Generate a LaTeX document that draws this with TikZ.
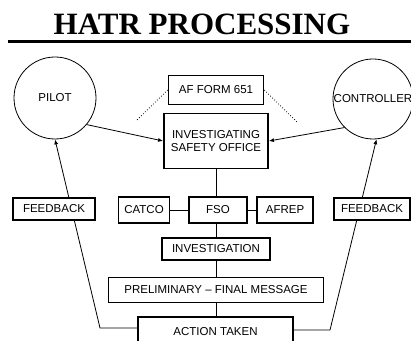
\documentclass[tikz,border=0pt]{standalone}
\usepackage{fontspec}
\setmainfont{Liberation Sans}
\newfontfamily\titlefont{Liberation Serif}
\usetikzlibrary{arrows.meta}
\tikzset{
  stepbox/.style={draw,line width=1.8bp,fill=white,inner sep=0pt,font=\fontsize{11.5bp}{13bp}\selectfont},
  party/.style={draw,circle,line width=0.8bp,inner sep=0pt,minimum size=82bp,font=\fontsize{11.5bp}{13bp}\selectfont},
  link/.style={line width=0.8bp},
}
\begin{document}
\begin{tikzpicture}[>={Latex[length=5bp,width=4bp]},x=1bp,y=1bp]
  \useasboundingbox (0bp,0bp) rectangle (411bp,341bp);
  % Title
  \node (title) at (202bp,317bp) {\titlefont\bfseries\fontsize{31bp}{33bp}\selectfont HATR PROCESSING};
  \draw [line width=3bp] (8bp,299bp) -- (411bp,299bp);
%%
  % Node: Pilot
  \node [party] (pilot) at (55bp,243bp) {PILOT};
  % Node: Controller
  \node [party,minimum size=80bp] (ctrl) at (373bp,242bp) {CONTROLLER};
  % Node: AF Form 651
  \node [stepbox,minimum width=95bp,minimum height=29bp] (form) at (216bp,251bp) {AF FORM 651};
  % Node: Investigating Safety Office
  \node [stepbox,minimum width=104bp,minimum height=55bp,align=center] (iso) at (216bp,200bp) {INVESTIGATING\\SAFETY OFFICE};
  % Node: CATCO
  \node [stepbox,minimum width=51bp,minimum height=26bp] (catco) at (144bp,131bp) {CATCO};
  % Node: FSO
  \node [stepbox,minimum width=58bp,minimum height=26bp] (fso) at (218bp,131bp) {FSO};
  % Node: AFREP
  \node [stepbox,minimum width=56bp,minimum height=26bp] (afrep) at (285bp,131bp) {AFREP};
  % Node: Investigation
  \node [stepbox,minimum width=108bp,minimum height=22bp] (invest) at (216bp,92bp) {INVESTIGATION};
  % Node: Preliminary - Final Message
  \node [stepbox,minimum width=215bp,minimum height=25bp] (prelim) at (216bp,51bp) {PRELIMINARY -- FINAL MESSAGE};
  % Node: Action Taken
  \node [stepbox,minimum width=155bp,minimum height=30bp] (action) at (215.5bp,9bp) {ACTION TAKEN};
  % corners of the feedback lines
  \coordinate (lcorner) at (100bp,13bp);
  \coordinate (rcorner) at (330bp,11bp);
  \coordinate (ldot) at (137bp,221bp);
  \coordinate (rdot) at (297bp,219bp);
%%
  % Edge: AF Form 651 .. dotted
  \draw [link,dotted] (form.west) -- (ldot);
  \draw [link,dotted] (form.east) -- (rdot);
  % Edge: Pilot -> ISO
  \draw [link,->] (pilot.-40) -- (iso.west);
  % Edge: Controller -> ISO
  \draw [link,->] (ctrl.225) -- (iso.east);
  % Edge: ISO -- FSO -- Investigation -- Preliminary -- Action
  \draw [link] (iso.south) -- (iso.south |- fso.north);
  \draw [link] (catco) -- (fso) -- (afrep);
  \draw [link] (iso.south |- fso.south) -- (iso.south |- invest.north);
  \draw [link] (invest) -- (prelim);
  \draw [link] (prelim) -- (prelim |- action.north);
  % Edge: Action -> Pilot (feedback)
  \draw [link,->] (action.west |- lcorner) -- (lcorner) -- (pilot.south);
  % Edge: Action -> Controller (feedback)
  \draw [link,->] (action.east |- rcorner) -- (rcorner) -- (ctrl.-85);
  % Node: Feedback boxes, over the lines
  \node [stepbox,minimum width=82bp,minimum height=22bp] (fbl) at (54bp,132bp) {FEEDBACK};
  \node [stepbox,minimum width=76bp,minimum height=22bp] (fbr) at (372bp,132bp) {FEEDBACK};
%
\end{tikzpicture}
\end{document}
